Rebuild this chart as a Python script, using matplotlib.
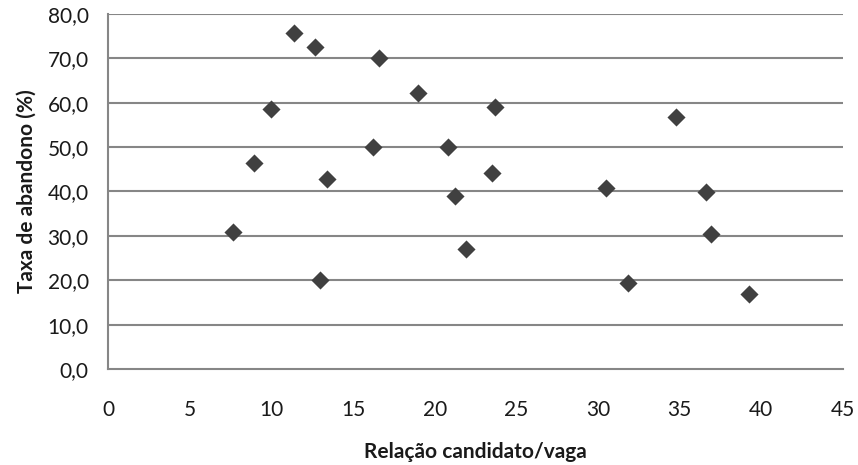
import numpy as np
import matplotlib.pyplot as plt
from matplotlib.ticker import FuncFormatter

plt.rcParams['font.family'] = ['Lato', 'DejaVu Sans']

relacao = [7.65, 8.94, 9.98, 11.39, 12.68, 12.98, 13.41, 16.23, 16.60, 18.98, 20.82,
           21.25, 21.92, 23.51, 23.70, 30.50, 31.84, 34.75, 36.62, 36.93, 39.25]
abandono = [30.9, 46.4, 58.6, 75.7, 72.6, 20.1, 42.8, 50.0, 70.1, 62.2, 50.0,
            39.0, 27.0, 44.2, 59.0, 40.8, 19.4, 56.7, 39.9, 30.4, 16.9]
x_ticks = [0, 5, 10, 15, 20, 25, 30, 35, 40, 45]
y_ticks = [0, 10, 20, 30, 40, 50, 60, 70, 80]

fig = plt.figure(figsize=(8.58, 4.65), dpi=100)
ax = fig.add_axes([0.126, 0.2065, 0.8565, 0.7635])

grid_color = '#868686'
for v in y_ticks[1:]:
    ax.axhline(v, color=grid_color, linewidth=1.5, zorder=1)

ax.scatter(relacao, abandono, marker='D', s=85, color='#404040', zorder=3, linewidths=0)

ax.set_xlim(0, 45)
ax.set_ylim(0, 80)
ax.set_xticks(x_ticks)
ax.set_yticks(y_ticks)
ax.yaxis.set_major_formatter(FuncFormatter(lambda v, p: f"{v:.1f}".replace('.', ',')))
ax.tick_params(length=0, labelsize=15, colors='#1a1a1a')
ax.tick_params(axis='x', pad=22)
ax.tick_params(axis='y', pad=14)

for side in ['top', 'right']:
    ax.spines[side].set_visible(False)
for side in ['left', 'bottom']:
    ax.spines[side].set_color(grid_color)
    ax.spines[side].set_linewidth(1.5)

ax.set_xlabel('Relação candidato/vaga', fontsize=15, fontweight='bold', labelpad=16, color='#1a1a1a')
ax.set_ylabel('Taxa de abandono (%)', fontsize=15, fontweight='bold', labelpad=8, color='#1a1a1a')

fig.savefig('out.png', dpi=100)
